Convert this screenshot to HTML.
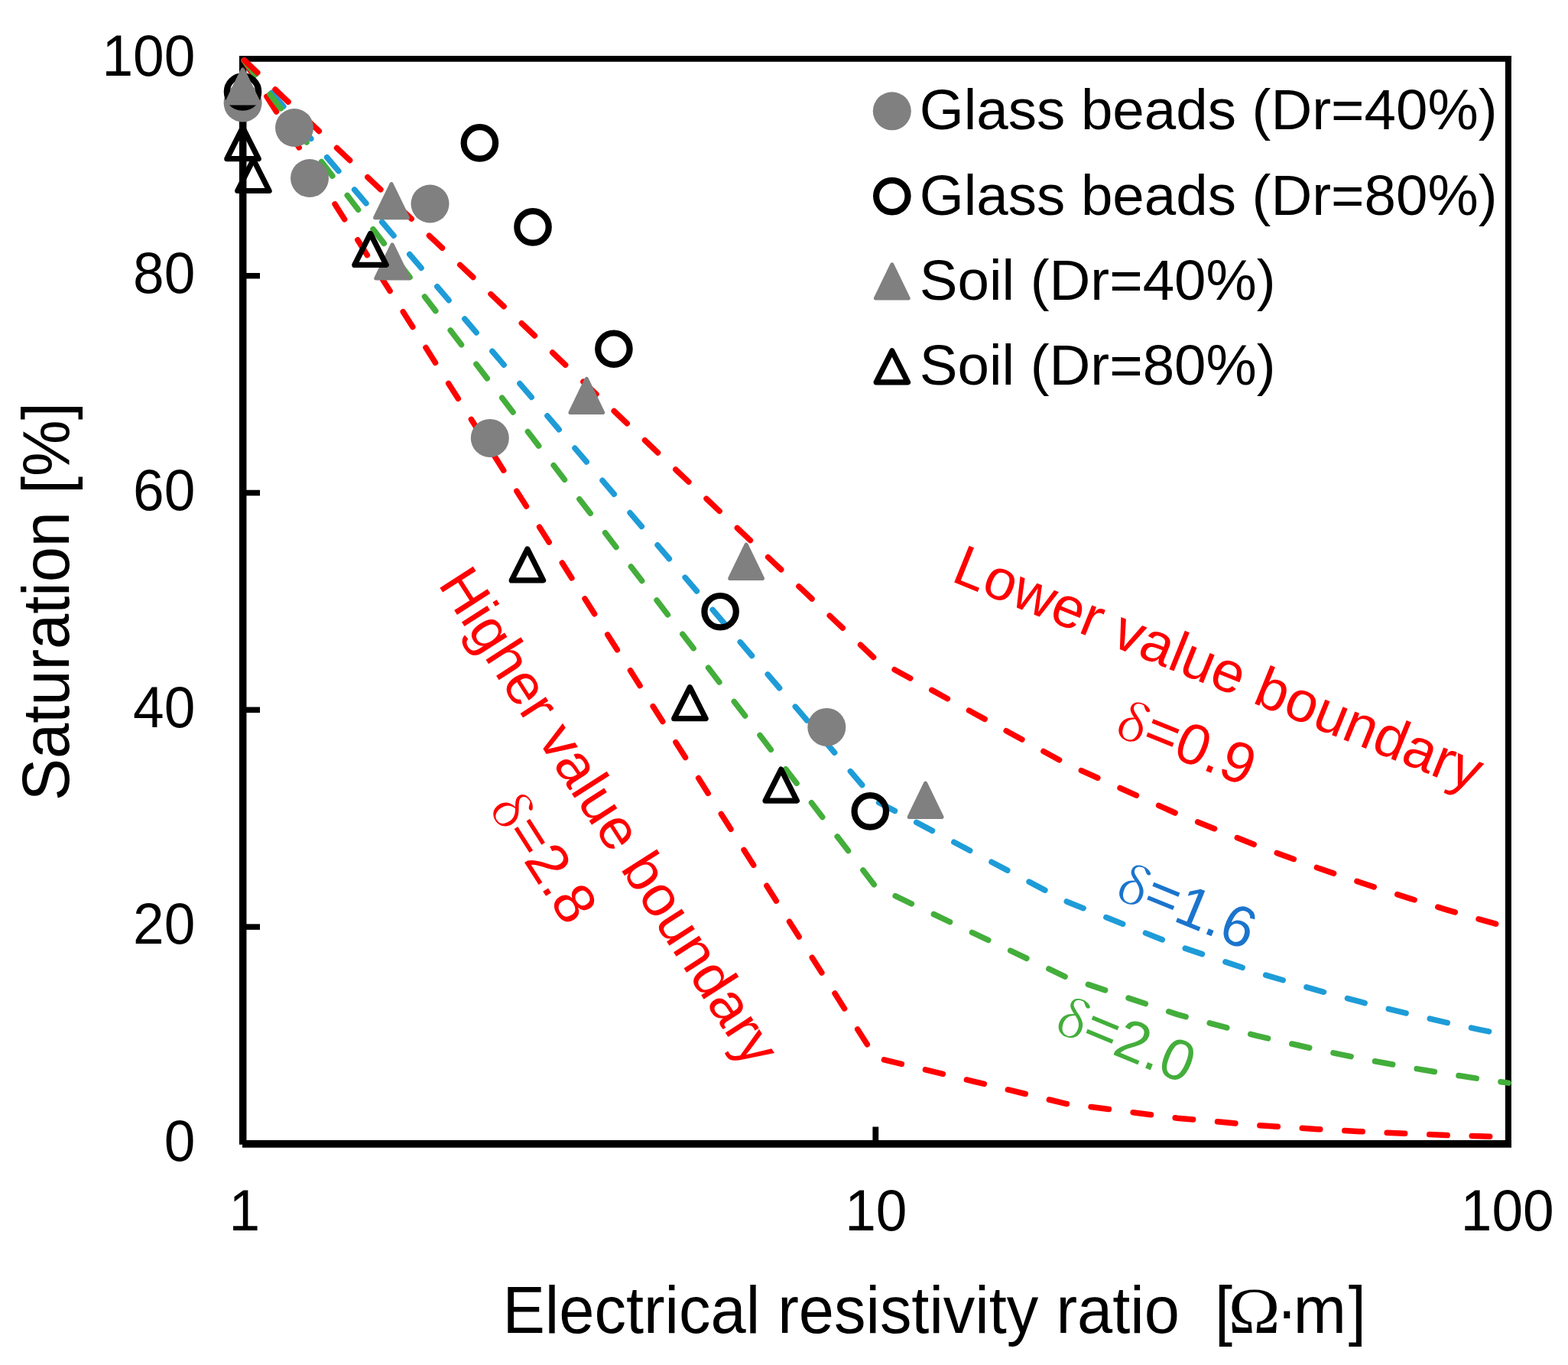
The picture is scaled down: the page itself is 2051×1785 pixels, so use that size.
<!DOCTYPE html>
<html><head><meta charset="utf-8"><title>Saturation vs resistivity ratio</title>
<style>html,body{margin:0;padding:0;background:#fff;overflow:hidden;}svg{display:block;}</style></head><body>
<svg width="2051" height="1785" viewBox="0 0 2051 1785" font-family="'Liberation Sans', Arial, sans-serif">
<rect x="0" y="0" width="2051" height="1785" fill="#fff"/>
<g stroke="#000" fill="none" stroke-linecap="butt">
<line x1="317.7" y1="73" x2="317.7" y2="1496.7" stroke-width="9.5"/>
<line x1="317" y1="1495.9" x2="1977" y2="1495.9" stroke-width="9.6"/>
<line x1="313" y1="76.9" x2="1977" y2="76.9" stroke-width="7.6"/>
<line x1="1972.9" y1="73" x2="1972.9" y2="1496" stroke-width="8"/>
<line x1="317.7" y1="1212.1" x2="340" y2="1212.1" stroke-width="7.5"/>
<line x1="317.7" y1="928.3" x2="340" y2="928.3" stroke-width="7.5"/>
<line x1="317.7" y1="644.5" x2="340" y2="644.5" stroke-width="7.5"/>
<line x1="317.7" y1="360.7" x2="340" y2="360.7" stroke-width="7.5"/>
<line x1="1145.3" y1="1495.9" x2="1145.3" y2="1473.5" stroke-width="7.8"/>
</g>
<g font-size="73" fill="#000" text-anchor="end">
<text transform="translate(255.3,1518.1) scale(1,1.040)" >0</text>
<text transform="translate(255.3,1234.3) scale(1,1.040)" >20</text>
<text transform="translate(255.3,950.5) scale(1,1.040)" >40</text>
<text transform="translate(255.3,666.7) scale(1,1.040)" >60</text>
<text transform="translate(255.3,382.9) scale(1,1.040)" >80</text>
<text transform="translate(255.3,99.1) scale(1,1.040)" >100</text>
</g>
<g font-size="73" fill="#000" text-anchor="middle">
<text transform="translate(319.8,1608.5) scale(1,1.040)" >1</text>
<text transform="translate(1145.8,1608.5) scale(1,1.040)" >10</text>
<text transform="translate(1971.7,1608.5) scale(1,1.040)" >100</text>
</g>
<text font-size="83" transform="translate(89.9,1047.3) rotate(-90) scale(1,1.040)">Saturation [%]</text>
<g font-size="83" fill="#000">
<text transform="translate(657.5,1743) scale(1,1.040)" xml:space="preserve" style="white-space:pre">Electrical resistivity ratio  [</text>
<text font-family="'Liberation Serif', 'Times New Roman', serif" transform="translate(1606.8,1743) scale(1.1,1.02)">Ω</text>
<text transform="translate(1669.5,1743) scale(1,1.040)">·</text>
<text transform="translate(1691.7,1743) scale(1,1.040)">m</text>
<text transform="translate(1763.8,1743) scale(1,1.040)">]</text>
</g>
<polyline points="317.7,76.9 1145.3,1383.2 1394.4,1443.3 1540.2,1462.2 1643.6,1471.4 1723.8,1476.7 1789.3,1480.2 1844.7,1482.6 1892.7,1484.5 1935.0,1485.8 1972.9,1486.9" stroke="#FF0000" stroke-width="7.5" stroke-dasharray="23.5 32.04" stroke-dashoffset="-2.75" stroke-linecap="round" stroke-linejoin="round" fill="none"/>
<polyline points="317.7,76.9 1145.3,1047.2 1394.4,1178.6 1540.2,1236.8 1643.6,1271.5 1723.8,1295.2 1789.3,1312.7 1844.7,1326.3 1892.7,1337.3 1935.0,1346.3 1972.9,1354.0" stroke="#1E9CD8" stroke-width="7.5" stroke-dasharray="23.5 32.04" stroke-dashoffset="-2.75" stroke-linecap="round" stroke-linejoin="round" fill="none"/>
<polyline points="317.7,76.9 1145.3,1159.4 1394.4,1277.7 1540.2,1326.6 1643.6,1354.4 1723.8,1372.8 1789.3,1386.1 1844.7,1396.2 1892.7,1404.2 1935.0,1410.7 1972.9,1416.1" stroke="#43AE3B" stroke-width="7.5" stroke-dasharray="23.5 32.04" stroke-dashoffset="-2.75" stroke-linecap="round" stroke-linejoin="round" fill="none"/>
<polyline points="317.7,76.9 1145.3,862.1 1394.4,998.6 1540.2,1064.4 1643.6,1105.7 1723.8,1135.0 1789.3,1157.3 1844.7,1175.1 1892.7,1189.8 1935.0,1202.1 1972.9,1212.8" stroke="#FF0000" stroke-width="7.5" stroke-dasharray="23.5 32.04" stroke-dashoffset="-2.75" stroke-linecap="round" stroke-linejoin="round" fill="none"/>
<circle cx="317.6" cy="134.6" r="25" fill="#808080"/>
<circle cx="385.0" cy="167.0" r="25" fill="#808080"/>
<circle cx="405.0" cy="233.0" r="25" fill="#808080"/>
<circle cx="562.5" cy="266.5" r="25" fill="#808080"/>
<circle cx="640.8" cy="572.9" r="25" fill="#808080"/>
<circle cx="1081.3" cy="950.9" r="25" fill="#808080"/>
<circle cx="317.5" cy="120.0" r="20.7" fill="none" stroke="#000" stroke-width="8.2"/>
<circle cx="627.4" cy="186.9" r="20.7" fill="none" stroke="#000" stroke-width="8.2"/>
<circle cx="697.0" cy="296.9" r="20.7" fill="none" stroke="#000" stroke-width="8.2"/>
<circle cx="802.9" cy="456.2" r="20.7" fill="none" stroke="#000" stroke-width="8.2"/>
<circle cx="942.1" cy="799.7" r="20.7" fill="none" stroke="#000" stroke-width="8.2"/>
<circle cx="1138.3" cy="1060.9" r="20.7" fill="none" stroke="#000" stroke-width="8.2"/>
<polygon points="317.5,90.9 338.9,135.1 296.1,135.1" fill="#808080" stroke="#808080" stroke-width="5" stroke-linejoin="round"/>
<polygon points="512.0,240.5 533.4,284.7 490.6,284.7" fill="#808080" stroke="#808080" stroke-width="5" stroke-linejoin="round"/>
<polygon points="513.1,319.9 534.5,364.1 491.7,364.1" fill="#808080" stroke="#808080" stroke-width="5" stroke-linejoin="round"/>
<polygon points="767.3,495.3 788.7,539.5 745.9,539.5" fill="#808080" stroke="#808080" stroke-width="5" stroke-linejoin="round"/>
<polygon points="976.1,712.2 997.5,756.4 954.7,756.4" fill="#808080" stroke="#808080" stroke-width="5" stroke-linejoin="round"/>
<polygon points="1210.6,1024.2 1232.0,1068.4 1189.2,1068.4" fill="#808080" stroke="#808080" stroke-width="5" stroke-linejoin="round"/>
<polygon points="317.5,166.7 338.2,207.7 296.8,207.7" fill="none" stroke="#000" stroke-width="7.2" stroke-linejoin="round"/>
<polygon points="331.4,208.5 352.1,249.5 310.7,249.5" fill="none" stroke="#000" stroke-width="7.2" stroke-linejoin="round"/>
<polygon points="484.5,305.4 505.2,346.4 463.8,346.4" fill="none" stroke="#000" stroke-width="7.2" stroke-linejoin="round"/>
<polygon points="689.9,717.9 710.6,758.9 669.2,758.9" fill="none" stroke="#000" stroke-width="7.2" stroke-linejoin="round"/>
<polygon points="902.4,898.7 923.1,939.7 881.7,939.7" fill="none" stroke="#000" stroke-width="7.2" stroke-linejoin="round"/>
<polygon points="1021.7,1006.1 1042.4,1047.1 1001.0,1047.1" fill="none" stroke="#000" stroke-width="7.2" stroke-linejoin="round"/>
<circle cx="1166.8" cy="145.3" r="25" fill="#808080"/>
<circle cx="1166.8" cy="256.6" r="20.7" fill="none" stroke="#000" stroke-width="8.2"/>
<polygon points="1166.8,345.8 1188.2,390.0 1145.4,390.0" fill="#808080" stroke="#808080" stroke-width="5" stroke-linejoin="round"/>
<polygon points="1166.8,458.8 1187.5,499.8 1146.1,499.8" fill="none" stroke="#000" stroke-width="7.2" stroke-linejoin="round"/>
<g font-size="74.5" fill="#000">
<text x="1202.8" y="169.4">Glass beads (Dr=40%)</text>
<text x="1202.8" y="280.6">Glass beads (Dr=80%)</text>
<text x="1202.8" y="391.8">Soil (Dr=40%)</text>
<text x="1202.8" y="503.0">Soil (Dr=80%)</text>
</g>
<g transform="translate(1584.60,897.40) rotate(22.00)"><text x="0" y="0" font-size="75" fill="#FF0000" text-anchor="middle">Lower value boundary</text><text x="-94.5" y="106.7" font-family="'Noto Serif CJK SC', 'Liberation Serif', serif" font-size="65" fill="#FF0000">δ</text><text x="-58.2" y="105.3" font-size="75.5" fill="#FF0000">=0.9</text></g>
<g transform="translate(775.80,1081.10) rotate(57.30)"><text x="0" y="0" font-size="75" fill="#FF0000" text-anchor="middle">Higher value boundary</text><text x="-93.3" y="102.3" font-family="'Noto Serif CJK SC', 'Liberation Serif', serif" font-size="65" fill="#FF0000">δ</text><text x="-57.0" y="100.9" font-size="75.5" fill="#FF0000">=2.8</text></g>
<g transform="translate(1491.90,1186.40) rotate(22.30)"><text x="-36.3" y="1.4" font-family="'Noto Serif CJK SC', 'Liberation Serif', serif" font-size="65" fill="#1B74CC">δ</text><text x="0.0" y="0.0" font-size="75.5" fill="#1B74CC">=1.6</text></g>
<g transform="translate(1412.20,1360.90) rotate(22.50)"><text x="-36.3" y="1.4" font-family="'Noto Serif CJK SC', 'Liberation Serif', serif" font-size="65" fill="#43AE3B">δ</text><text x="0.0" y="0.0" font-size="75.5" fill="#43AE3B">=2.0</text></g>
</svg></body></html>
